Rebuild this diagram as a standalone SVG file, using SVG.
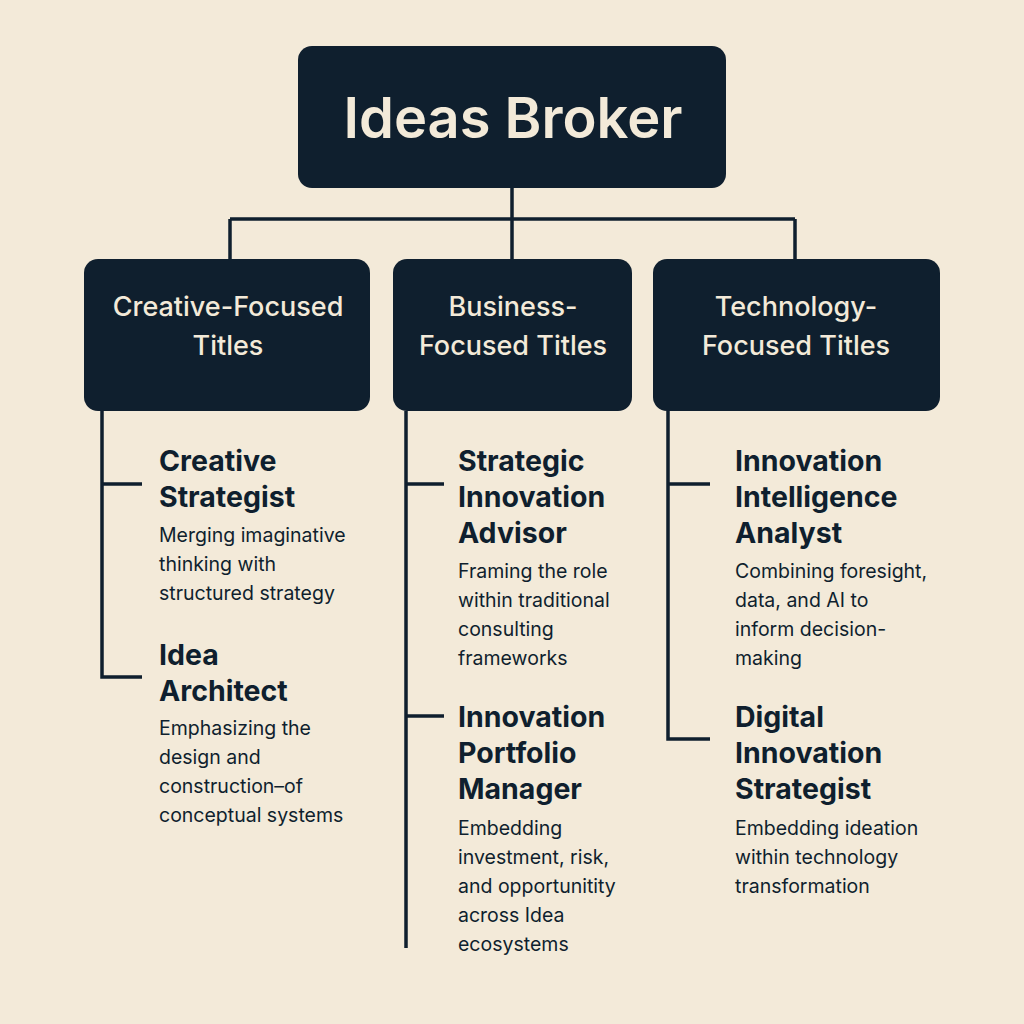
<svg xmlns="http://www.w3.org/2000/svg" width="1024" height="1024" viewBox="0 0 1024 1024">
<style>
.box{fill:#0f1f2e}
.wire{stroke:#0f1f2e;stroke-width:3.5;fill:none}
.top{font-family:Inter,"Noto Sans",sans-serif;font-weight:600;font-size:56px;fill:#f3ead9;text-anchor:middle}
.cat{font-family:Inter,"Noto Sans",sans-serif;font-weight:500;font-size:27px;fill:#f3ead9;text-anchor:middle}
.ttl{font-family:Inter,"Noto Sans",sans-serif;font-weight:700;font-size:28.5px;fill:#0f1f2e}
.dsc{font-family:Inter,"Noto Sans",sans-serif;font-weight:400;font-size:19.5px;fill:#0f1f2e}
</style>
<rect width="1024" height="1024" fill="#f3ead9"/>
<g id="connectors">
<path class="wire" d="M512 188V259M230 219H795M230 219V259M795 219V259"/>
<path class="wire" d="M102 411V677H142M102 484H142"/>
<path class="wire" d="M406 411V948M406 484H444M406 716H444"/>
<path class="wire" d="M668 411V739H710M668 484H710"/>
</g>
<g id="root">
<rect class="box" x="298" y="46" width="428" height="142" rx="14"/>
<text class="top" x="513" y="138">Ideas Broker</text>
</g>
<g id="creative">
<rect class="box" x="84" y="259" width="286" height="152" rx="14"/>
<text class="cat" x="228" y="316">Creative-Focused</text>
<text class="cat" x="228" y="355">Titles</text>
</g>
<g id="business">
<rect class="box" x="393" y="259" width="239" height="152" rx="14"/>
<text class="cat" x="513" y="316">Business-</text>
<text class="cat" x="513" y="355">Focused Titles</text>
</g>
<g id="technology">
<rect class="box" x="653" y="259" width="287" height="152" rx="14"/>
<text class="cat" x="796" y="316">Technology-</text>
<text class="cat" x="796" y="355">Focused Titles</text>
</g>
<g id="creative-strategist">
<text class="ttl" x="159" y="471">Creative</text>
<text class="ttl" x="159" y="507">Strategist</text>
<text class="dsc" x="159" y="542">Merging imaginative</text>
<text class="dsc" x="159" y="571">thinking with</text>
<text class="dsc" x="159" y="600">structured strategy</text>
</g>
<g id="idea-architect">
<text class="ttl" x="159" y="665">Idea</text>
<text class="ttl" x="159" y="701">Architect</text>
<text class="dsc" x="159" y="735">Emphasizing the</text>
<text class="dsc" x="159" y="764">design and</text>
<text class="dsc" x="159" y="793">construction–of</text>
<text class="dsc" x="159" y="822">conceptual systems</text>
</g>
<g id="strategic-innovation-advisor">
<text class="ttl" x="458" y="471">Strategic</text>
<text class="ttl" x="458" y="507">Innovation</text>
<text class="ttl" x="458" y="543">Advisor</text>
<text class="dsc" x="458" y="578">Framing the role</text>
<text class="dsc" x="458" y="607">within traditional</text>
<text class="dsc" x="458" y="636">consulting</text>
<text class="dsc" x="458" y="665">frameworks</text>
</g>
<g id="innovation-portfolio-manager">
<text class="ttl" x="458" y="727">Innovation</text>
<text class="ttl" x="458" y="763">Portfolio</text>
<text class="ttl" x="458" y="799">Manager</text>
<text class="dsc" x="458" y="835">Embedding</text>
<text class="dsc" x="458" y="864">investment, risk,</text>
<text class="dsc" x="458" y="893">and opportunitity</text>
<text class="dsc" x="458" y="922">across Idea</text>
<text class="dsc" x="458" y="951">ecosystems</text>
</g>
<g id="innovation-intelligence-analyst">
<text class="ttl" x="735" y="471">Innovation</text>
<text class="ttl" x="735" y="507">Intelligence</text>
<text class="ttl" x="735" y="543">Analyst</text>
<text class="dsc" x="735" y="578">Combining foresight,</text>
<text class="dsc" x="735" y="607">data, and AI to</text>
<text class="dsc" x="735" y="636">inform decision-</text>
<text class="dsc" x="735" y="665">making</text>
</g>
<g id="digital-innovation-strategist">
<text class="ttl" x="735" y="727">Digital</text>
<text class="ttl" x="735" y="763">Innovation</text>
<text class="ttl" x="735" y="799">Strategist</text>
<text class="dsc" x="735" y="835">Embedding ideation</text>
<text class="dsc" x="735" y="864">within technology</text>
<text class="dsc" x="735" y="893">transformation</text>
</g>
</svg>
